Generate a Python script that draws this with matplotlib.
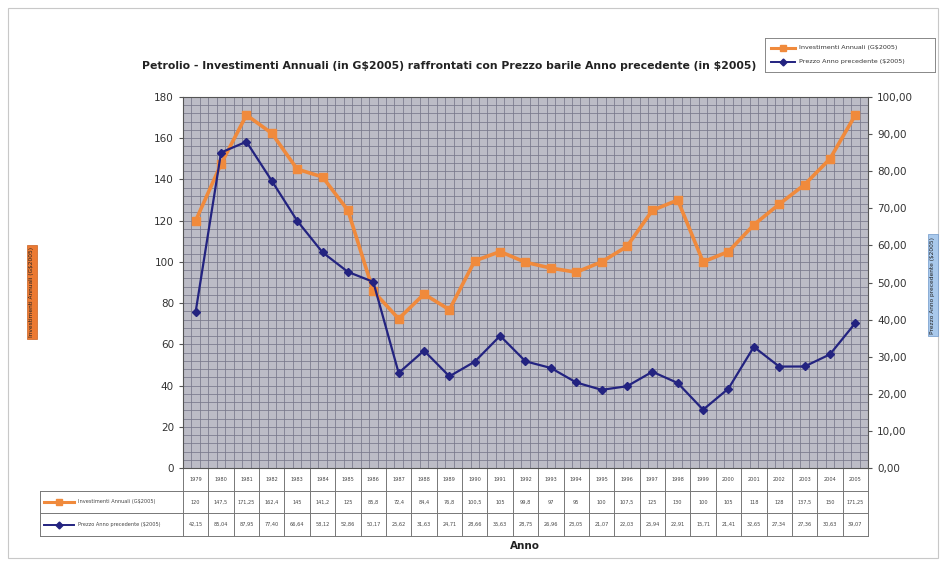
import numpy as np
import matplotlib
matplotlib.use("Agg")
import matplotlib.pyplot as plt
from matplotlib.lines import Line2D
from matplotlib.patches import Rectangle
import matplotlib.transforms as mtrans

plt.rcParams["text.parse_math"] = False

years = [1979, 1980, 1981, 1982, 1983, 1984, 1985, 1986, 1987, 1988, 1989, 1990,
         1991, 1992, 1993, 1994, 1995, 1996, 1997, 1998, 1999, 2000, 2001, 2002,
         2003, 2004, 2005]
investimenti = [120, 147.5, 171.25, 162.4, 145, 141.2, 125, 85.8, 72.4, 84.4, 76.8,
                100.5, 105, 99.8, 97, 95, 100, 107.5, 125, 130, 100, 105, 118, 128,
                137.5, 150, 171.25]
prezzo = [42.15, 85.04, 87.95, 77.40, 66.64, 58.12, 52.86, 50.17, 25.62, 31.63,
          24.71, 28.66, 35.63, 28.75, 26.96, 23.05, 21.07, 22.03, 25.94, 22.91,
          15.71, 21.41, 32.65, 27.34, 27.36, 30.63, 39.07]

name_inv = "Investimenti Annuali (G$2005)"
name_prz = "Prezzo Anno precedente ($2005)"
title = "Petrolio - Investimenti Annuali (in G$2005) raffrontati con Prezzo barile Anno precedente (in $2005)"

ORANGE = "#f08a3c"
NAVY = "#232380"
BG = "#bcbcc6"
GRID = "#78788a"

W, H = 945, 566
fig = plt.figure(figsize=(W / 100, H / 100), dpi=100)
fig.patch.set_facecolor("white")

# thin frame around the chart
fig.add_artist(Rectangle((8 / W, 8 / H), 930 / W, 550 / H, transform=fig.transFigure,
                         fill=False, edgecolor="#c8c8c8", linewidth=0.8))

x0, x1, y0, y1 = 183, 868, 97, 468
ax = fig.add_axes([x0 / W, 1 - y1 / H, (x1 - x0) / W, (y1 - y0) / H])
ax.set_facecolor(BG)
n = len(years)
x = np.arange(n)
ax.set_xlim(-0.5, n - 0.5)
ax.set_ylim(0, 180)
ax.set_yticks(np.arange(0, 181, 20))
ax.set_yticks(np.arange(0, 181, 4), minor=True)
ax.set_xticks(np.arange(-0.5, n - 0.4, 1.0))
ax.set_xticks(np.arange(-0.5, n - 0.4, 1 / 3), minor=True)
ax.grid(True, which="both", color=GRID, linewidth=0.55)
ax.set_axisbelow(True)
ax.set_xticklabels([])
ax.tick_params(axis="x", which="both", length=0)
ax.tick_params(axis="y", which="minor", length=0)
ax.tick_params(axis="y", which="major", labelsize=7.5, labelcolor="#333333", length=3,
               color="#555555")
for s in ax.spines.values():
    s.set_color("#555555")
    s.set_linewidth(0.8)

ax2 = ax.twinx()
ax2.set_ylim(0, 100)
ax2.set_yticks(np.arange(0, 101, 10))
ax2.set_yticklabels([f"{v:.2f}".replace(".", ",") for v in np.arange(0, 101, 10)])
ax2.tick_params(axis="y", labelsize=7.5, labelcolor="#333333", length=3, color="#555555")
for s in ax2.spines.values():
    s.set_visible(False)

ax.plot(x, investimenti, color=ORANGE, linewidth=2.6, marker="s", markersize=6,
        markerfacecolor=ORANGE, markeredgecolor=ORANGE, zorder=3)
ax2.plot(x, prezzo, color=NAVY, linewidth=1.6, marker="D", markersize=4,
         markerfacecolor=NAVY, markeredgecolor=NAVY, zorder=3)

fig.text(449 / W, 1 - 66 / H, title, ha="center", va="center", fontsize=7.8,
         fontweight="bold", color="#222222")

# legend box at top right
leg_ax = fig.add_axes([765 / W, 1 - 72 / H, 170 / W, 34 / H])
leg_ax.set_xlim(0, 170)
leg_ax.set_ylim(34, 0)
leg_ax.set_xticks([])
leg_ax.set_yticks([])
for s in leg_ax.spines.values():
    s.set_color("#888888")
    s.set_linewidth(0.7)
leg_ax.plot([6, 30], [10, 10], color=ORANGE, linewidth=2.2)
leg_ax.plot([18], [10], marker="s", color=ORANGE, markersize=5)
leg_ax.text(34, 10, name_inv, fontsize=4.6, va="center", color="#333333")
leg_ax.plot([6, 30], [24, 24], color=NAVY, linewidth=1.4)
leg_ax.plot([18], [24], marker="D", color=NAVY, markersize=3.5)
leg_ax.text(34, 24, name_prz, fontsize=4.6, va="center", color="#333333")

# axis titles in coloured boxes
fig.text(32 / W, 1 - 292 / H, name_inv, rotation=90, ha="center", va="center",
         fontsize=4.2, color="#222222",
         bbox=dict(boxstyle="square,pad=0.35", facecolor="#ec7a32", edgecolor="#c86020",
                   linewidth=0.5))
fig.text(933 / W, 1 - 285 / H, name_prz, rotation=90, ha="center", va="center",
         fontsize=4.2, color="#222222",
         bbox=dict(boxstyle="square,pad=0.35", facecolor="#a9c9ec", edgecolor="#6f97c8",
                   linewidth=0.5))

# data table under the plot, columns aligned with the categories
tr = mtrans.blended_transform_factory(ax.transData, fig.transFigure)
row_edges = [468, 491, 513, 536]
row_y = [(row_edges[i] + row_edges[i + 1]) / 2 for i in range(3)]
tcol = "#777777"
for i, ye in enumerate(row_edges):
    if i == 0:
        ax.plot([-0.5, n - 0.5], [1 - ye / H] * 2, transform=tr, color=tcol,
                linewidth=0.7, clip_on=False)
    else:
        fig.add_artist(Line2D([40 / W, x1 / W], [1 - ye / H] * 2, color=tcol,
                              linewidth=0.7))
for k in range(n + 1):
    ax.plot([k - 0.5, k - 0.5], [1 - row_edges[0] / H, 1 - row_edges[-1] / H],
            transform=tr, color=tcol, linewidth=0.7, clip_on=False)
fig.add_artist(Line2D([40 / W, 40 / W], [1 - row_edges[1] / H, 1 - row_edges[-1] / H],
                      color=tcol, linewidth=0.7))

for k in range(n):
    ax.text(k, 1 - row_y[0] / H, str(years[k]), transform=tr, ha="center",
            va="center", fontsize=3.6, color="#444444", clip_on=False)
    inv_txt = f"{investimenti[k]:g}".replace(".", ",")
    ax.text(k, 1 - row_y[1] / H, inv_txt, transform=tr, ha="center", va="center",
            fontsize=3.6, color="#444444", clip_on=False)
    ax.text(k, 1 - row_y[2] / H, f"{prezzo[k]:.2f}".replace(".", ","), transform=tr,
            ha="center", va="center", fontsize=3.6, color="#444444", clip_on=False)

# series keys in the table's first column
fig.add_artist(Line2D([44 / W, 74 / W], [1 - row_y[1] / H] * 2, color=ORANGE,
                      linewidth=2.2))
fig.add_artist(Line2D([59 / W], [1 - row_y[1] / H], color=ORANGE, marker="s",
                      markersize=5))
fig.text(78 / W, 1 - row_y[1] / H, name_inv, fontsize=3.6, va="center", color="#444444")
fig.add_artist(Line2D([44 / W, 74 / W], [1 - row_y[2] / H] * 2, color=NAVY,
                      linewidth=1.4))
fig.add_artist(Line2D([59 / W], [1 - row_y[2] / H], color=NAVY, marker="D",
                      markersize=3.5))
fig.text(78 / W, 1 - row_y[2] / H, name_prz, fontsize=3.6, va="center", color="#444444")

fig.text(525 / W, 1 - 546 / H, "Anno", ha="center", va="center", fontsize=7.5,
         fontweight="bold", color="#222222")

fig.savefig("out.png", dpi=100, facecolor="white")
